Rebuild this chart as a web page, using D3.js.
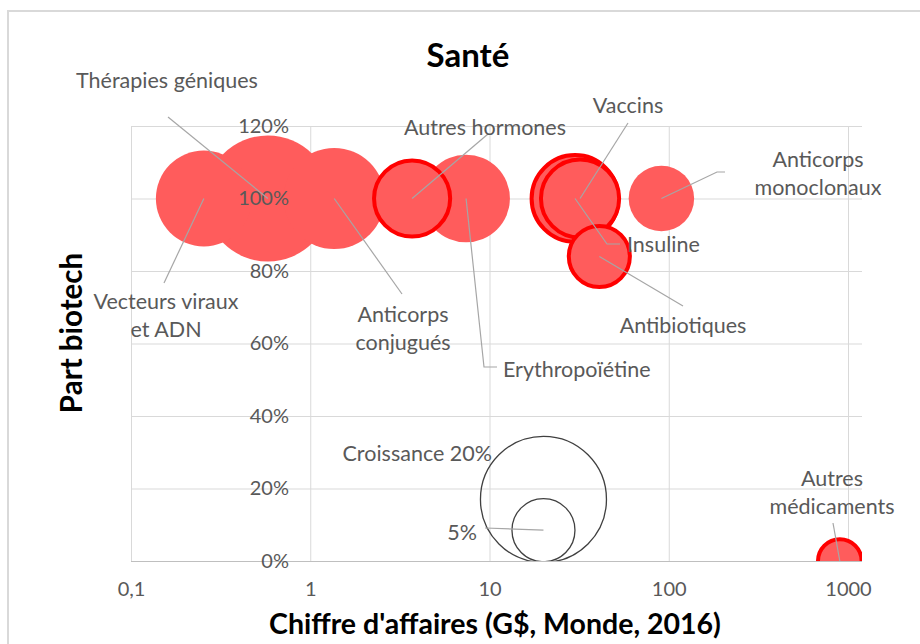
<!DOCTYPE html>
<html>
<head>
<meta charset="utf-8">
<script src="https://cdn.jsdelivr.net/npm/d3@7/dist/d3.min.js"></script>
<style>
  html, body { margin: 0; padding: 0; background: #fff; }
  svg { display: block; }
  text { font-family: Lato, "Noto Sans", sans-serif; }
</style>
</head>
<body>
<svg id="chart" width="920" height="644"></svg>
<script>
// ---- data ----
const categories = [
  "Vecteurs viraux et ADN", "Thérapies géniques", "Anticorps conjugués",
  "Autres hormones", "Erythropoïétine", "Insuline", "Vaccins",
  "Anticorps monoclonaux", "Antibiotiques", "Autres médicaments"
];
const revenue = [0.255, 0.58, 1.36, 3.7, 7.4, 30, 32, 91, 41, 900];          // G$
const biotechShare = [1.0, 1.0, 1.0, 1.0, 1.0, 1.0, 1.0, 1.0, 0.84, 0.0];   // part biotech
const growth = [11.6, 20, 12.9, 7.3, 9.7, 9.5, 7.7, 5.4, 4.7, 2.4];         // croissance %
const outlined = [false, false, false, true, false, true, true, false, true, true];

const legendLabels = ["Croissance 20%", "5%"];
const legendGrowth = [20, 5];
const legendRevenue = [20, 20];
const legendShare = [0.17, 0.085];

const xTicks = [0.1, 1, 10, 100, 1000];
const xTickLabels = ["0,1", "1", "10", "100", "1000"];
const yTicks = [0, 0.2, 0.4, 0.6, 0.8, 1.0, 1.2];
const yTickLabels = ["0%", "20%", "40%", "60%", "80%", "100%", "120%"];

// ---- layout (pixels) ----
const plot = { left: 131, right: 862, top: 126, bottom: 561, xEnd: 848 };
const labelLayout = {
  "Vecteurs viraux et ADN": { lines: ["Vecteurs viraux", "et ADN"], x: 166, y: 301, anchor: "middle", path: [[164, 283]] },
  "Thérapies géniques":     { lines: ["Thérapies géniques"], x: 167, y: 80, anchor: "middle", path: [[168, 117]] },
  "Anticorps conjugués":    { lines: ["Anticorps", "conjugués"], x: 403, y: 314, anchor: "middle", path: [[402, 294]] },
  "Autres hormones":        { lines: ["Autres hormones"], x: 485, y: 127, anchor: "middle", path: [[488, 134]] },
  "Erythropoïétine":        { lines: ["Erythropoïétine"], x: 503, y: 369, anchor: "start", path: [[484, 367], [497, 367]] },
  "Insuline":               { lines: ["Insuline"], x: 627, y: 244, anchor: "start", path: [[607, 244], [620, 244]] },
  "Vaccins":                { lines: ["Vaccins"], x: 628, y: 105, anchor: "middle", path: [[628, 123]] },
  "Anticorps monoclonaux":  { lines: ["Anticorps", "monoclonaux"], x: 818, y: 159, anchor: "middle", path: [[717, 172], [725, 172]] },
  "Antibiotiques":          { lines: ["Antibiotiques"], x: 683, y: 325, anchor: "middle", path: [[683, 306]] },
  "Autres médicaments":     { lines: ["Autres", "médicaments"], x: 832, y: 478, anchor: "middle", path: [[833, 523]] }
};
const legendLayout = [
  { x: 492, y: 453, anchor: "end", path: null },
  { x: 477, y: 532, anchor: "end", path: [[485, 528]] }
];

const svg = d3.select("#chart");

// chart border (top + left visible)
svg.append("rect").attr("x", 8).attr("y", 11).attr("width", 940).attr("height", 660)
  .attr("fill", "none").attr("stroke", "#d9d9d9").attr("stroke-width", 2);

const x = d3.scaleLog().domain([0.1, 1000]).range([plot.left, plot.xEnd]);
const y = d3.scaleLinear().domain([0, 1.2]).range([plot.bottom, plot.top]);
const r = d3.scaleSqrt().domain([0, 20]).range([0, 63]);

// gridlines
const gx = svg.append("g").attr("transform", `translate(0,${plot.bottom})`)
  .call(d3.axisBottom(x).tickValues(xTicks).tickSize(-(plot.bottom - plot.top)).tickFormat(""));
gx.select(".domain").remove();
gx.selectAll(".tick line").attr("stroke", "#d9d9d9").attr("stroke-width", 1);

const gy = svg.append("g").attr("transform", `translate(${plot.left},0)`)
  .call(d3.axisLeft(y).tickValues(yTicks).tickSize(-(plot.right - plot.left)).tickFormat(""));
gy.select(".domain").remove();
gy.selectAll(".tick line").attr("stroke", (d) => d === 0 ? "#bfbfbf" : "#d9d9d9").attr("stroke-width", 1);

// clip
svg.append("clipPath").attr("id", "clip").append("rect")
  .attr("x", plot.left).attr("y", plot.top - 10)
  .attr("width", plot.right - plot.left).attr("height", plot.bottom - plot.top + 10);

const bubbles = categories.map((c, i) => ({
  name: c, rev: revenue[i], share: biotechShare[i], g: growth[i], out: outlined[i]
})).sort((a, b) => b.g - a.g);

const gB = svg.append("g").attr("clip-path", "url(#clip)");
gB.selectAll("circle.b").data(bubbles).join("circle")
  .attr("class", "b")
  .attr("cx", d => x(d.rev)).attr("cy", d => y(d.share)).attr("r", d => r(d.g))
  .attr("fill", "#ff5c5c")
  .attr("stroke", d => d.out ? "#ff0000" : "none")
  .attr("stroke-width", d => d.out ? 4 : 0);

// legend bubbles
const legend = legendLabels.map((l, i) => ({ label: l, g: legendGrowth[i], rev: legendRevenue[i], share: legendShare[i], lay: legendLayout[i] }));
gB.selectAll("circle.l").data(legend).join("circle")
  .attr("class", "l")
  .attr("cx", d => x(d.rev)).attr("cy", d => y(d.share)).attr("r", d => r(d.g))
  .attr("fill", "none").attr("stroke", "#404040").attr("stroke-width", 1.3);

// y tick labels (drawn over bubbles)
const yl = svg.append("g").attr("transform", `translate(${289},0)`)
  .call(d3.axisLeft(y).tickValues(yTicks).tickSize(0).tickPadding(0).tickFormat((d, i) => yTickLabels[i]));
yl.select(".domain").remove();
yl.selectAll("text").attr("font-size", 20).attr("fill", "#595959").attr("font-family", "Lato");

// x tick labels
const xl = svg.append("g").attr("transform", `translate(0,${582})`)
  .call(d3.axisBottom(x).tickValues(xTicks).tickSize(0).tickPadding(0).tickFormat((d, i) => xTickLabels[i]));
xl.select(".domain").remove();
xl.selectAll("text").attr("font-size", 20).attr("fill", "#595959").attr("font-family", "Lato");

// leader lines
const line = d3.line();
const leaders = svg.append("g");
bubbles.forEach(d => {
  const L = labelLayout[d.name];
  const pts = [[x(d.rev), y(d.share)], ...L.path];
  leaders.append("path").attr("d", line(pts)).attr("fill", "none")
    .attr("stroke", "#a6a6a6").attr("stroke-width", 1.2);
});
legend.forEach(d => {
  if (!d.lay.path) return;
  const pts = [[x(d.rev), y(d.share)], ...d.lay.path];
  leaders.append("path").attr("d", line(pts)).attr("fill", "none")
    .attr("stroke", "#a6a6a6").attr("stroke-width", 1.2);
});

// data labels
const labels = svg.append("g").attr("font-size", 21.5).attr("fill", "#595959");
bubbles.forEach(d => {
  const L = labelLayout[d.name];
  const t = labels.append("text").attr("text-anchor", L.anchor);
  L.lines.forEach((ln, j) => {
    t.append("tspan").attr("x", L.x).attr("y", L.y + j * 28.5).attr("dy", "0.35em").text(ln);
  });
});
legend.forEach(d => {
  labels.append("text").attr("text-anchor", d.lay.anchor)
    .attr("x", d.lay.x).attr("y", d.lay.y).attr("dy", "0.35em").text(d.label);
});

// titles
svg.append("text").attr("x", 468).attr("y", 55).attr("dy", "0.35em")
  .attr("text-anchor", "middle").attr("font-size", 33).attr("font-weight", "bold").attr("fill", "#000")
  .text("Santé");
svg.append("text").attr("transform", "translate(72,333) rotate(-90)").attr("dy", "0.35em")
  .attr("text-anchor", "middle").attr("font-size", 29.5).attr("font-weight", "bold").attr("fill", "#000")
  .text("Part biotech");
svg.append("text").attr("x", 495).attr("y", 624).attr("dy", "0.35em")
  .attr("text-anchor", "middle").attr("font-size", 28.5).attr("font-weight", "bold").attr("fill", "#000")
  .text("Chiffre d'affaires (G$, Monde, 2016)");
</script>
</body>
</html>
